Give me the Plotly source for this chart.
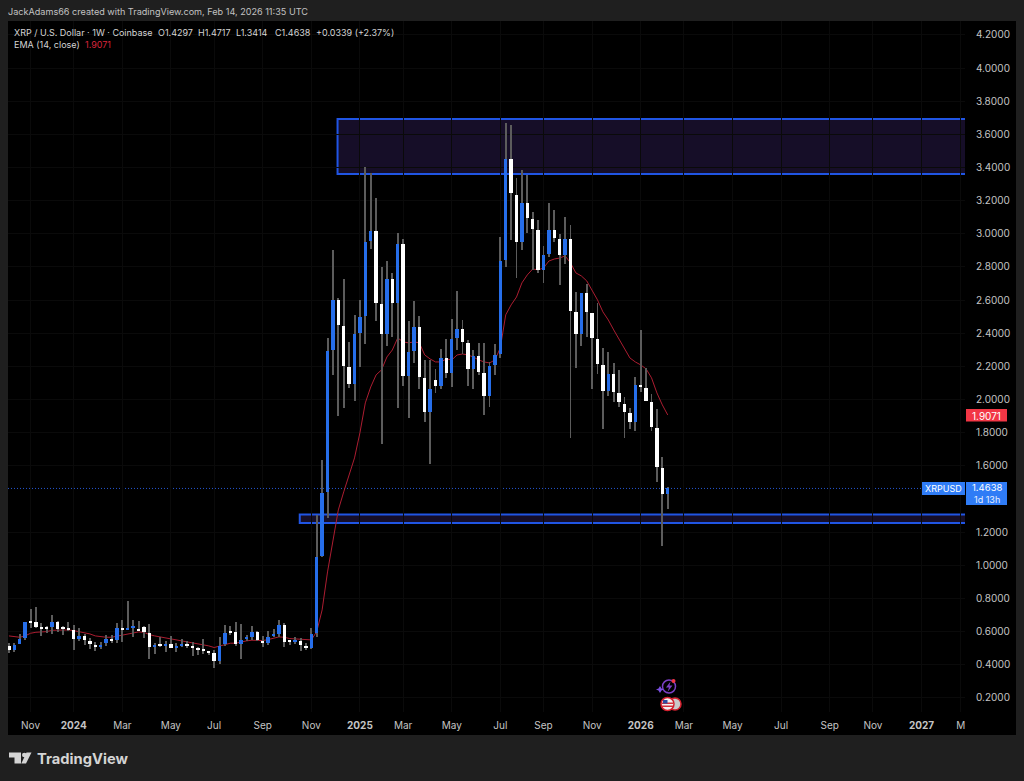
"""XRP / U.S. Dollar weekly candles with EMA 14, TradingView dark style"""

import pandas as pd
import plotly.graph_objects as go

#weekly bars, first one 2023-10-09
dates = pd.date_range("2023-10-09", periods=123, freq="7D")

opens = [
    .516, .490, .526, .560, .657, .658, .624, .620, .626, .658, .620, .615,
    .612, .554, .572, .542, .520, .506, .530, .556, .548, .622, .612, .622,
    .606, .626, .590, .508, .522, .514, .526, .506, .514, .526, .512, .496,
    .489, .478, .473, .423, .526, .596, .598, .526, .558, .566, .598, .546,
    .532, .574, .588, .638, .544, .538, .546, .514, .504, .594, 1.057, 1.443,
    2.299, 2.601, 2.444, 2.197, 2.094, 2.402, 2.505, 2.957, 3.017, 2.577, 2.396, 2.728,
    2.583, 2.939, 2.143, 2.293, 2.438, 2.131, 1.925, 2.119, 2.082, 2.251, 2.161, 2.372,
    2.426, 2.342, 2.185, 2.263, 2.161, 2.022, 2.209, 2.275, 2.842, 3.452, 3.235, 2.951,
    3.186, 3.090, 3.023, 2.782, 2.879, 3.023, 2.969, 2.873, 2.969, 2.529, 2.396, 2.643,
    2.523, 2.366, 2.209, 2.052, 2.155, 2.040, 1.974, 1.919, 1.865, 2.088, 2.070, 1.986,
    1.829, 1.588, 1.4297,
]
highs = [
    .530, .530, .586, .660, .735, .749, .650, .634, .701, .664, .634, .660,
    .640, .622, .586, .560, .536, .536, .580, .578, .652, .670, .785, .670,
    .664, .634, .644, .530, .570, .542, .574, .530, .558, .542, .540, .506,
    .558, .479, .490, .566, .638, .634, .660, .646, .582, .634, .602, .574,
    .602, .614, .668, .654, .550, .566, .560, .530, .620, 1.304, 1.636, 2.372,
    2.903, 2.613, 2.728, 2.348, 2.511, 2.601, 3.403, 3.367, 3.216, 2.800, 2.836, 2.764,
    3.005, 2.969, 2.474, 2.595, 2.505, 2.239, 2.239, 2.185, 2.305, 2.366, 2.486, 2.655,
    2.480, 2.360, 2.299, 2.342, 2.342, 2.227, 2.336, 2.981, 3.669, 3.657, 3.337, 3.385,
    3.355, 3.132, 3.084, 2.927, 3.186, 3.144, 2.999, 3.102, 3.054, 2.649, 2.643, 2.698,
    2.523, 2.583, 2.312, 2.287, 2.221, 2.179, 2.016, 1.950, 2.137, 2.420, 2.191, 2.034,
    1.944, 1.654, 1.4717,
]
lows = [
    .473, .477, .526, .550, .620, .620, .574, .594, .586, .596, .580, .604,
    .488, .544, .520, .496, .486, .498, .514, .530, .530, .538, .610, .570,
    .604, .562, .433, .465, .510, .477, .500, .479, .506, .504, .455, .459,
    .465, .461, .383, .405, .514, .580, .514, .433, .546, .550, .544, .506,
    .518, .566, .570, .506, .520, .528, .486, .490, .494, .570, 1.050, 1.286,
    2.149, 1.901, 1.950, 2.070, 1.992, 2.197, 2.336, 2.909, 2.474, 1.732, 2.324, 2.378,
    1.950, 2.082, 1.889, 2.221, 2.064, 1.865, 1.612, 2.040, 2.064, 2.131, 2.076, 2.299,
    2.275, 2.082, 2.064, 2.149, 1.907, 1.956, 2.149, 2.251, 2.800, 2.963, 2.734, 2.903,
    3.005, 2.782, 2.764, 2.704, 2.860, 2.951, 2.692, 2.818, 1.769, 2.191, 2.324, 2.378,
    2.064, 2.155, 1.823, 2.022, 1.986, 1.956, 1.769, 1.823, 1.811, 2.046, 1.992, 1.811,
    1.503, 1.117, 1.3414,
]
closes = [
    .488, .520, .554, .658, .656, .630, .616, .618, .658, .614, .616, .612,
    .554, .572, .550, .526, .508, .522, .554, .544, .622, .612, .614, .628,
    .604, .598, .508, .520, .514, .526, .504, .508, .526, .514, .504, .494,
    .487, .476, .423, .516, .594, .594, .526, .550, .562, .598, .550, .534,
    .568, .584, .638, .538, .541, .544, .518, .506, .586, 1.052, 1.437, 2.293,
    2.601, 2.450, 2.203, 2.094, 2.396, 2.499, 2.951, 3.017, 2.583, 2.396, 2.728, 2.583,
    2.939, 2.143, 2.287, 2.438, 2.137, 1.925, 2.064, 2.082, 2.251, 2.161, 2.366, 2.426,
    2.348, 2.185, 2.263, 2.167, 2.022, 2.203, 2.269, 2.836, 3.452, 3.247, 2.951, 3.186,
    3.096, 3.029, 2.782, 2.873, 3.023, 2.975, 2.873, 2.969, 2.535, 2.396, 2.643, 2.529,
    2.372, 2.215, 2.052, 2.155, 2.046, 1.986, 1.925, 1.865, 2.088, 2.076, 1.992, 1.835,
    1.594, 1.431, 1.4638,
]
ema14 = [
    .574, .568, .566, .574, .590, .596, .598, .600, .608, .610, .610, .610,
    .606, .600, .596, .586, .574, .568, .566, .566, .572, .580, .586, .592,
    .598, .596, .582, .574, .568, .562, .556, .550, .546, .542, .536, .530,
    .522, .514, .504, .514, .524, .530, .530, .538, .544, .548, .548, .546,
    .552, .558, .568, .566, .558, .556, .554, .550, .550, .600, .731, .960,
    1.153, 1.334, 1.443, 1.539, 1.648, 1.799, 1.980, 2.076, 2.149, 2.179, 2.257, 2.299,
    2.372, 2.348, 2.342, 2.348, 2.342, 2.269, 2.245, 2.227, 2.227, 2.245, 2.239, 2.269,
    2.275, 2.269, 2.257, 2.239, 2.227, 2.221, 2.239, 2.312, 2.511, 2.571, 2.619, 2.704,
    2.752, 2.788, 2.782, 2.794, 2.836, 2.848, 2.854, 2.867, 2.824, 2.764, 2.746, 2.716,
    2.661, 2.601, 2.529, 2.480, 2.420, 2.366, 2.312, 2.251, 2.227, 2.209, 2.185, 2.131,
    2.040, 1.968, 1.9071,
]

#axis ticks, 1.4 is hidden behind the last price label in the picture
y_ticks = [0.2, 0.4, 0.6, 0.8, 1.0, 1.2, 1.6, 1.8, 2.0, 2.2, 2.4, 2.6, 2.8, 3.0, 3.2, 3.4, 3.6, 3.8, 4.0, 4.2]
x_tick_dates = ["2023-11-06", "2024-01-01", "2024-03-04", "2024-05-06", "2024-07-01", "2024-09-02", "2024-11-04",
                "2025-01-06", "2025-03-03", "2025-05-05", "2025-07-07", "2025-09-01", "2025-11-03",
                "2026-01-05", "2026-03-02", "2026-05-04", "2026-07-06", "2026-09-07", "2026-11-02",
                "2027-01-04", "2027-02-24"]
x_tick_labels = ["Nov", "<b>2024</b>", "Mar", "May", "Jul", "Sep", "Nov",
                 "<b>2025</b>", "Mar", "May", "Jul", "Sep", "Nov",
                 "<b>2026</b>", "Mar", "May", "Jul", "Sep", "Nov", "<b>2027</b>", "M"]

#the two marked price zones
zone_upper = dict(start="2024-12-08", low=3.361, high=3.693)
zone_lower = dict(start="2024-10-20", low=1.256, high=1.307)
last_price = 1.4638
last_ema = 1.9071

BLUE = "#266eea"
WHITE = "#ffffff"
WICK = "#5c5c5c"
ZONE_LINE = "#2055e4"
ZONE_FILL = "#160e28"
FONT = "Inter"
DAY_MS = 86400000


#page position helpers, picture is 1024x781
def px(x):
    return x / 1024


def py(y):
    return 1 - y / 781


def page_rect(x0, y0, x1, y1, color):
    return dict(type="rect", xref="paper", yref="paper", x0=px(x0), x1=px(x1), y0=py(y0), y1=py(y1),
                fillcolor=color, line=dict(width=0), layer="above")


def page_circle(cx, cy, r, color, line=None, width=0):
    return dict(type="circle", xref="paper", yref="paper", x0=px(cx - r), x1=px(cx + r), y0=py(cy - r), y1=py(cy + r),
                fillcolor=color, line=dict(color=line, width=width), layer="above")


def page_path(points, color):
    path = "M " + " L ".join(f"{px(x):.5f},{py(y):.5f}" for x, y in points) + " Z"
    return dict(type="path", xref="paper", yref="paper", path=path, fillcolor=color, line=dict(width=0), layer="above")


def page_text(x, y, text, size=9, color="#d4d4d4", anchor="left"):
    return dict(x=px(x), y=py(y), xref="paper", yref="paper", text=text, showarrow=False, xanchor=anchor, yanchor="middle",
                borderpad=0, borderwidth=0, font=dict(family=FONT, size=size, color=color))


is_up = [c >= o for o, c in zip(opens, closes)]
body_colors = [BLUE if up else WHITE for up in is_up]
body_base = [min(o, c) for o, c in zip(opens, closes)]
body_size = [max(abs(c - o), 0.006) for o, c in zip(opens, closes)]
wick_size = [h - l for h, l in zip(highs, lows)]

fig = go.Figure()

#ema sits on the lower axis so candles are drawn over it
fig.add_trace(go.Scatter(x=dates, y=ema14, mode="lines", name="EMA (14, close)",
                         line=dict(color="#ac1d31", width=1), hoverinfo="skip"))

fig.add_trace(go.Bar(x=dates, y=wick_size, base=lows, width=1.25 * DAY_MS, marker=dict(color=WICK, line=dict(width=0)),
                     yaxis="y2", name="wick", hoverinfo="skip"))
fig.add_trace(go.Bar(x=dates, y=body_size, base=body_base, width=4.3 * DAY_MS, marker=dict(color=body_colors, line=dict(width=0)),
                     yaxis="y2", name="XRPUSD"))

y_range = [0.115, 4.284]

fig.update_layout(
    width=1024,
    height=781,
    margin=dict(l=0, r=0, t=0, b=0),
    paper_bgcolor="#1f1f1f",
    plot_bgcolor="rgba(0,0,0,0)",
    showlegend=False,
    barmode="overlay",
    bargap=0,
    xaxis=dict(
        domain=[px(8), px(965)],
        type="date",
        range=["2023-10-07 19:00", "2027-03-01 09:00"],
        tickvals=x_tick_dates,
        ticktext=x_tick_labels,
        ticks="outside",
        ticklen=4,
        tickcolor="#000000",
        tickfont=dict(family=FONT, size=10, color="#c4c4c4"),
        showgrid=True,
        gridcolor="#0a0a0a",
        gridwidth=1,
        zeroline=False,
        showline=False,
    ),
    yaxis=dict(
        domain=[py(712), py(21)],
        range=y_range,
        side="right",
        anchor="x",
        tickvals=y_ticks,
        tickformat=".4f",
        ticks="outside",
        ticklen=8,
        tickcolor="#000000",
        tickfont=dict(family=FONT, size=10, color="#c4c4c4"),
        showgrid=True,
        gridcolor="#0a0a0a",
        gridwidth=1,
        zeroline=False,
        showline=False,
    ),
    yaxis2=dict(
        domain=[py(712), py(21)],
        range=y_range,
        overlaying="y",
        side="right",
        showticklabels=False,
        showgrid=False,
        zeroline=False,
    ),
)

shapes = [
    #black chart panel
    dict(type="rect", xref="paper", yref="paper", x0=px(8), x1=px(1016), y0=py(735), y1=py(21),
         fillcolor="#000000", line=dict(width=0), layer="below"),
]

#price zones, open to the right
for zone in [zone_upper, zone_lower]:
    shapes.append(dict(type="rect", xref="x", yref="y", x0=zone["start"], x1="2027-06-01",
                       y0=zone["low"], y1=zone["high"], fillcolor=ZONE_FILL,
                       line=dict(color=ZONE_LINE, width=2), layer="below"))

#last price dotted line
shapes.append(dict(type="line", xref="paper", yref="y", x0=px(8), x1=px(922), y0=last_price, y1=last_price,
                   line=dict(color="#2556d0", width=1, dash="1px,2px"), layer="below"))

#price labels on the axis
shapes.append(page_rect(966, 409, 1007, 421.5, "#f23645"))
shapes.append(page_rect(966, 482, 1007, 505, "#2f7cf6"))
shapes.append(page_rect(922, 482, 965, 495, "#2f7cf6"))

#event icons under the last candles
shapes.append(page_circle(669, 686.5, 6.5, "rgba(0,0,0,0)", "#7b3fc4", 1.5))
shapes.append(page_path([(660, 686), (661.5, 688.5), (664, 689.5), (661.5, 690.5), (660, 693), (658.5, 690.5), (656, 689.5), (658.5, 688.5)], "#7b4fe0"))
shapes.append(page_path([(670.5, 681.5), (666, 687.5), (669, 687.5), (667.5, 692), (672.5, 685.5), (669.5, 685.5)], "#7b3fc4"))
shapes.append(page_circle(673.5, 681, 2, "#f23645"))
shapes.append(page_circle(675, 704, 6, "#c9c9c9", "#d4202e", 1.5))
shapes.append(page_circle(667.5, 704, 6.5, "#f2f2f2", "#d4202e", 1.5))
shapes.append(page_rect(662, 702.5, 673, 704, "#d4303a"))
shapes.append(page_rect(662, 705.5, 673, 707, "#d4303a"))
shapes.append(page_rect(663, 700, 667.5, 703.5, "#2b4ea0"))

#tradingview logo
shapes.append(page_path([(9, 752.5), (21, 752.5), (21, 763.5), (14.5, 763.5), (14.5, 757.5), (9, 757.5)], "#d4d4d4"))
shapes.append(page_circle(24.3, 755, 2.3, "#d4d4d4"))
shapes.append(page_path([(26.5, 752.5), (31.5, 752.5), (26, 763.5), (21.3, 763.5)], "#d4d4d4"))

fig.update_layout(shapes=shapes)

annotations = [
    page_text(8, 11.5, "JackAdams66 created with TradingView.com, Feb 14, 2026 11:35 UTC", 9.1, "#c2c2c2"),
    page_text(14, 32, "XRP / U.S. Dollar · 1W · Coinbase"),
    page_text(158, 32, "O1.4297"),
    page_text(198, 32, "H1.4717"),
    page_text(236, 32, "L1.3414"),
    page_text(275, 32, "C1.4638"),
    page_text(316, 32, "+0.0339 (+2.37%)"),
    page_text(14, 45, "EMA (14, close)"),
    page_text(85, 45, "1.9071", 9, "#d9253c"),
    page_text(986.5, 415.5, "1.9071", 10, "#ffffff", "center"),
    page_text(986.5, 487.5, "1.4638", 9.5, "#ffffff", "center"),
    page_text(986.5, 499.5, "1d 13h", 9, "#e8f0ff", "center"),
    page_text(943.5, 488.5, "XRPUSD", 9, "#ffffff", "center"),
    dict(x=px(36), y=py(759), xref="paper", yref="paper", text="<b>TradingView</b>", showarrow=False, xanchor="left", yanchor="middle",
         borderpad=0, font=dict(family=FONT, size=14.7, color="#d4d4d4")),
]
fig.update_layout(annotations=annotations)

#page margin would shift the chart by 8px
fig.write_html("out.html", config=dict(displayModeBar=False), post_script="document.body.style.margin='0';")
